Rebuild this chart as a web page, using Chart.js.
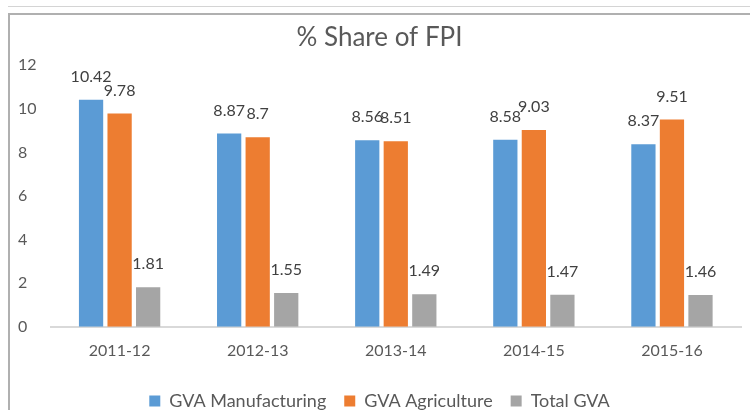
<!DOCTYPE html>
<html>
<head>
<meta charset="utf-8">
<script src="https://cdn.jsdelivr.net/npm/chart.js@4"></script>
<style>
  body { margin: 0; background: #fff; }
  #wrap { position: relative; width: 750px; height: 410px; }
  .topline { position: absolute; left: 8px; top: 6px; width: 742px; height: 1px; background: #d4d4d4; }
  .frame { position: absolute; left: 8px; top: 13px; width: 742px; height: 397px;
           border-top: 2px solid #b0b0b0; border-left: 2px solid #b0b0b0; box-sizing: border-box; }
  canvas { position: absolute; left: 0; top: 0; }
</style>
</head>
<body>
<div id="wrap">
  <div class="topline"></div>
  <div class="frame"></div>
  <canvas id="barChart" width="750" height="410"></canvas>
</div>
<script>
const years = ['2011-12', '2012-13', '2013-14', '2014-15', '2015-16'];
const gvaManufacturing = [10.42, 8.87, 8.56, 8.58, 8.37];
const gvaAgriculture = [9.78, 8.7, 8.51, 9.03, 9.51];
const totalGva = [1.81, 1.55, 1.49, 1.47, 1.46];
const yTicks = [0, 2, 4, 6, 8, 10, 12];

const textColor = '#595959';
const fontName = 'Lato, "Open Sans", sans-serif';

// labels over each bar
const valueLabels = {
    id: 'valueLabels',
    afterDatasetsDraw(chart) {
        const ctx = chart.ctx;
        ctx.save();
        ctx.font = '16px ' + fontName;
        ctx.fillStyle = '#404040';
        ctx.textAlign = 'center';
        ctx.textBaseline = 'bottom';
        chart.data.datasets.forEach(function(ds, i) {
            chart.getDatasetMeta(i).data.forEach(function(bar, j) {
                ctx.fillText(String(ds.data[j]), bar.x, bar.y - 15);
            });
        });
        ctx.restore();
    }
};

document.addEventListener("DOMContentLoaded", function() {
    const ctx = document.getElementById('barChart').getContext('2d');
    new Chart(ctx, {
        type: 'bar',
        data: {
            labels: years,
            datasets: [
                { label: 'GVA Manufacturing', data: gvaManufacturing, backgroundColor: '#5B9BD5' },
                { label: 'GVA Agriculture', data: gvaAgriculture, backgroundColor: '#ED7D31' },
                { label: 'Total GVA', data: totalGva, backgroundColor: '#A5A5A5' }
            ]
        },
        options: {
            responsive: false,
            animation: false,
            categoryPercentage: 0.62,
            barPercentage: 0.85,
            layout: { padding: { top: 14, left: 18, right: 9, bottom: -10 } },
            plugins: {
                title: {
                    display: true,
                    text: '% Share of FPI',
                    color: textColor,
                    font: { family: fontName, size: 26, weight: 'normal' },
                    padding: { top: 8, bottom: 12 }
                },
                legend: {
                    position: 'bottom',
                    labels: {
                        color: textColor,
                        font: { family: fontName, size: 18, lineHeight: 1.1 },
                        boxWidth: 11,
                        boxHeight: 11,
                        padding: 18
                    }
                },
                tooltip: { enabled: false }
            },
            scales: {
                x: {
                    grid: { display: false, drawTicks: false },
                    border: { display: true, color: '#d9d9d9', width: 2 },
                    ticks: { color: textColor, font: { family: fontName, size: 16 }, padding: 14 }
                },
                y: {
                    min: 0,
                    max: 12,
                    afterBuildTicks: function(axis) {
                        axis.ticks = yTicks.map(function(v) { return { value: v }; });
                    },
                    grid: { display: false, drawTicks: false },
                    border: { display: false },
                    ticks: { color: textColor, font: { family: fontName, size: 16 }, padding: 7, crossAlign: 'far' }
                }
            }
        },
        plugins: [valueLabels]
    });
});
</script>
</body>
</html>
